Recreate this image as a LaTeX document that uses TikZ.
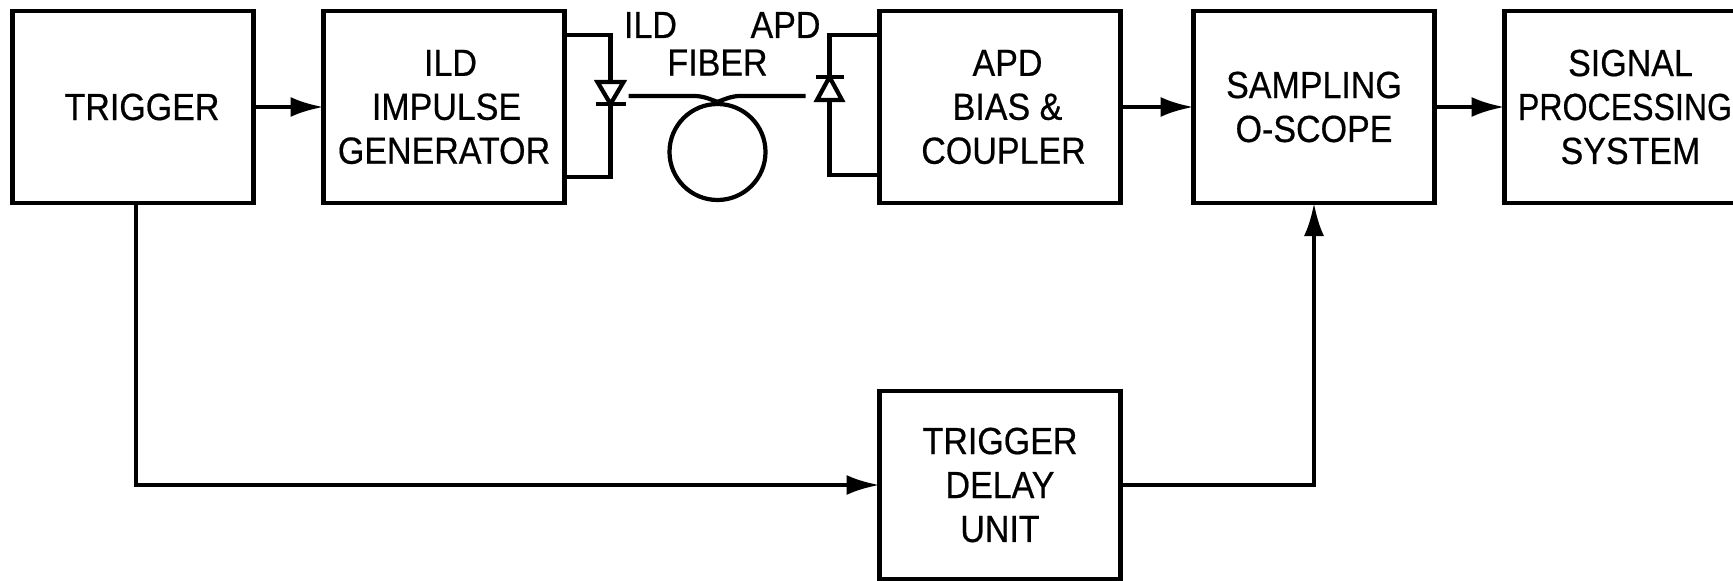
\documentclass[tikz,border=0pt]{standalone}
\usepackage{fontspec}
\setmainfont[FakeStretch=0.9,FakeBold=0.5]{Liberation Sans}
\newfontfamily\narrowfont[FakeStretch=0.85,FakeBold=0.5]{Liberation Sans}
\usetikzlibrary{calc}
\usetikzlibrary{positioning,arrows.meta}

\begin{document}
\begin{tikzpicture}[
    block/.style={
        draw,
        line width=2.6pt,
        outer sep=0pt,
        minimum width=4.82cm,
        minimum height=3.84cm,
        align=center,
        font=\fontsize{21.5}{25}\selectfont
    },
    wire/.style={line width=2.4pt},
    arrow/.style={wire, -{Latex[length=0.66cm,width=0.4cm]}},
    label/.style={inner sep=0pt, font=\fontsize{21.5}{25}\selectfont}
]

% Page frame
\useasboundingbox (-2.66,2.14) rectangle (32,-9.46);
\clip (-2.66,2.14) rectangle (32,-9.46);

% Top row
\node[block] (trigger) at (0,0) {\hspace*{0.36cm}TRIGGER};
\node[block, right=1.4cm of trigger] (ild) {\hspace*{0.26cm}ILD\\\hspace*{0.1cm}IMPULSE\\GENERATOR};
\node[block, right=6.3cm of ild] (apd) {\hspace*{0.3cm}APD\\\hspace*{0.3cm}BIAS \&\\\hspace*{0.14cm}COUPLER};
\node[block, right=1.46cm of apd] (sampling) {SAMPLING\\O-SCOPE};
\node[block, right=1.4cm of sampling] (signal) {\hspace*{0.22cm}SIGNAL\\{\narrowfont PROCESSING}\\\hspace*{0.22cm}SYSTEM};

% Delay unit (bottom)
\node[block, minimum height=3.76cm, below=3.76cm of apd] (delay) {TRIGGER\\DELAY\\UNIT};

% Arrows between blocks
\draw[arrow] (trigger) -- (ild);
\draw[arrow] (apd) -- (sampling);
\draw[arrow] (sampling) -- (signal);
\draw[arrow] ($(trigger.south)+(0.06,0)$) |- (delay.west);
\draw[arrow] (delay.east) -| (sampling.south);

% ILD diode
\coordinate (ildin) at ($(ild.east)+(0,1.44)$);
\coordinate (ildout) at ($(ild.east)+(0,-1.40)$);
\coordinate (ildtip) at ($(ild.east)+(0.92,0.06)$);
\draw[wire] (ildin) -| ($(ildtip)+(0,0.44)$);
\draw[wire] (ildtip) |- (ildout);
\draw[wire] ($(ildtip)+(-0.26,0.44)$) -- ++(0.52,0) -- (ildtip) -- cycle;
\draw[wire] ($(ildtip)+(-0.3,0)$) -- ++(0.6,0);

% APD diode
\coordinate (apdin) at ($(apd.west)+(0,1.44)$);
\coordinate (apdout) at ($(apd.west)+(0,-1.36)$);
\coordinate (apdtip) at ($(apd.west)+(-1.0,0.6)$);
\draw[wire] (apdin) -| (apdtip);
\draw[wire] ($(apdtip)+(0,-0.46)$) |- (apdout);
\draw[wire] ($(apdtip)+(-0.25,-0.46)$) -- ++(0.5,0) -- (apdtip) -- cycle;
\draw[wire] ($(apdtip)+(-0.28,0)$) -- ++(0.56,0);

% Fiber coil
\node[circle, draw, wire, minimum size=1.92cm] (coil) at ($(ild.east)+(3.06,-0.9)$) {};
\coordinate (fibl) at ($(ild.east)+(1.28,0.22)$);
\coordinate (fibr) at ($(apd.west)+(-1.48,0.22)$);
\draw[wire] (fibl) -- ++(1.3,0) to[out=0,in=160] (coil.north);
\draw[wire] (fibr) -- ++(-1.3,0) to[out=180,in=20] (coil.north);

% Labels
\node[label, above=0.52cm of coil] (fiber) {FIBER};
\node[label] (ildlabel) at ($(ild.east)+(1.72,1.64)$) {ILD};
\node[label] (apdlabel) at ($(apd.west)+(-1.88,1.64)$) {APD};

\end{tikzpicture}
\end{document}
